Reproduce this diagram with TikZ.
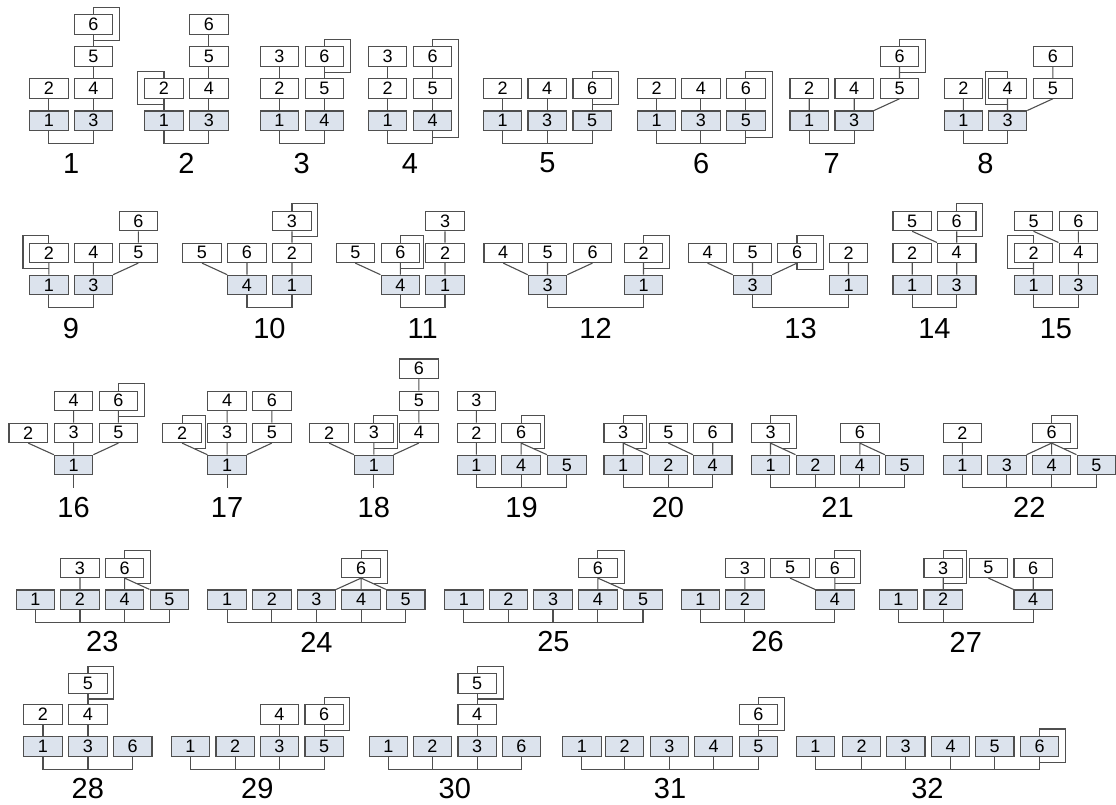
\documentclass[tikz,border=0pt]{standalone}
\usepackage{fontspec}
\setmainfont{Liberation Sans}
\usetikzlibrary{calc}
\definecolor{edge}{HTML}{4F4F4F}
\definecolor{rootfill}{HTML}{DCE3ED}
\newcommand\boxfont{\fontsize{18}{18}\selectfont}
\newcommand\tagfont{\fontsize{29}{29}\selectfont}
%% self loop on the right / left side of a cell, ending at #3
\newcommand\loopR[3]{\draw[link] (#1.north) -- ++(0,-7) -| ($(#1.north east)+(#2,0)$) |- (#3);}
\newcommand\loopL[3]{\draw[link] (#1.north) -- ++(0,-7) -| ($(#1.north west)+(-#2,0)$) |- (#3);}
%% bar joining the roots
\newcommand\rootbar[2]{\draw[link] (#1.south) -- ++(0,12.5) -| (#2.south);}
\newcommand\rootstub[1]{\draw[link] (#1.south) -- ++(0,12.5);}
\tikzset{
  cell/.style={draw=edge, line width=1.1pt, minimum width=38.5pt, minimum height=19.5pt,
    inner sep=0pt, font=\boxfont},
  rootcell/.style={cell, fill=rootfill},
  link/.style={draw=edge, line width=1.1pt},
  tag/.style={font=\tagfont, inner sep=0pt}
}
\begin{document}
\begin{tikzpicture}[x=1pt, y=-1pt]
  \useasboundingbox (0,0) rectangle (1116,805);
  %% ---------------- row 1 ----------------
  %% 1
  \node[rootcell] (d1-1) at (48.8,120.8) {1};
  \node[rootcell] (d1-3) at (93.5,120.8) {3};
  \node[cell] (d1-2) at (48.8,88.5) {2};
  \node[cell] (d1-4) at (93.5,88.5) {4};
  \node[cell] (d1-5) at (93.5,56.5) {5};
  \node[cell] (d1-6) at (93.5,24.5) {6};
  \draw[link] (d1-2) -- (d1-1) (d1-4) -- (d1-3) (d1-5) -- (d1-4) (d1-6) -- (d1-5);
  \rootbar{d1-1}{d1-3}
  \loopR{d1-6}{6}{$(d1-6.south)!.5!(d1-5.north)$}
  \node[tag] (t1) at ($(d1-1.south)!.5!(d1-3.south)+(0,32)$) {1};
  %% 2
  \node[rootcell] (d2-1) at (164,120.8) {1};
  \node[rootcell] (d2-3) at (208.8,120.8) {3};
  \node[cell] (d2-2) at (164,88.5) {2};
  \node[cell] (d2-4) at (208.8,88.5) {4};
  \node[cell] (d2-5) at (208.8,56.5) {5};
  \node[cell] (d2-6) at (208.8,24.5) {6};
  \draw[link] (d2-2) -- (d2-1) (d2-4) -- (d2-3) (d2-5) -- (d2-4) (d2-6) -- (d2-5);
  \rootbar{d2-1}{d2-3}
  \loopL{d2-2}{7}{$(d2-2.south)!.5!(d2-1.north)$}
  \node[tag] (t2) at ($(d2-1.south)!.5!(d2-3.south)+(0,32)$) {2};
  %% 3
  \node[rootcell] (d3-1) at (279.3,120.8) {1};
  \node[rootcell] (d3-4) at (324.3,120.8) {4};
  \node[cell] (d3-2) at (279.3,88.5) {2};
  \node[cell] (d3-5) at (324.3,88.5) {5};
  \node[cell] (d3-3) at (279.3,56.5) {3};
  \node[cell] (d3-6) at (324.3,56.5) {6};
  \draw[link] (d3-3) -- (d3-2) (d3-2) -- (d3-1) (d3-6) -- (d3-5) (d3-5) -- (d3-4);
  \rootbar{d3-1}{d3-4}
  \loopR{d3-6}{6}{$(d3-6.south)!.5!(d3-5.north)$}
  \node[tag] (t3) at ($(d3-1.south)!.5!(d3-4.south)+(0,32)$) {3};
  %% 4
  \node[rootcell] (d4-1) at (387.5,120.8) {1};
  \node[rootcell] (d4-4) at (432.5,120.8) {4};
  \node[cell] (d4-2) at (387.5,88.5) {2};
  \node[cell] (d4-5) at (432.5,88.5) {5};
  \node[cell] (d4-3) at (387.5,56.5) {3};
  \node[cell] (d4-6) at (432.5,56.5) {6};
  \draw[link] (d4-3) -- (d4-2) (d4-2) -- (d4-1) (d4-6) -- (d4-5) (d4-5) -- (d4-4);
  \rootbar{d4-1}{d4-4}
  \loopR{d4-6}{6.5}{$(d4-4.south)+(0,6.25)$}
  \node[tag] (t4) at ($(d4-1.south)!.5!(d4-4.south)+(0,32)$) {4};
  %% 5
  \node[rootcell] (d5-1) at (502.5,120.8) {1};
  \node[rootcell] (d5-3) at (547.2,120.8) {3};
  \node[rootcell] (d5-5) at (592.2,120.8) {5};
  \node[cell] (d5-2) at (502.5,88.5) {2};
  \node[cell] (d5-4) at (547.2,88.5) {4};
  \node[cell] (d5-6) at (592.2,88.5) {6};
  \draw[link] (d5-2) -- (d5-1) (d5-4) -- (d5-3) (d5-6) -- (d5-5);
  \rootbar{d5-1}{d5-5}
  \rootstub{d5-3}
  \loopR{d5-6}{6.5}{$(d5-6.south)!.5!(d5-5.north)$}
  \node[tag] (t5) at ($(d5-1.south)!.5!(d5-5.south)+(0,32)$) {5};
  %% 6
  \node[rootcell] (d6-1) at (656.5,120.8) {1};
  \node[rootcell] (d6-3) at (700.8,120.8) {3};
  \node[rootcell] (d6-5) at (745.8,120.8) {5};
  \node[cell] (d6-2) at (656.5,88.5) {2};
  \node[cell] (d6-4) at (700.8,88.5) {4};
  \node[cell] (d6-6) at (745.8,88.5) {6};
  \draw[link] (d6-2) -- (d6-1) (d6-4) -- (d6-3) (d6-6) -- (d6-5);
  \rootbar{d6-1}{d6-5}
  \rootstub{d6-3}
  \loopR{d6-6}{6.5}{$(d6-5.south)+(0,6.25)$}
  \node[tag] (t6) at ($(d6-1.south)!.5!(d6-5.south)+(0,32)$) {6};
  %% 7
  \node[rootcell] (d7-1) at (809.2,120.8) {1};
  \node[rootcell] (d7-3) at (854.2,120.8) {3};
  \node[cell] (d7-2) at (809.2,88.5) {2};
  \node[cell] (d7-4) at (854.2,88.5) {4};
  \node[cell] (d7-5) at (899.5,88.5) {5};
  \node[cell] (d7-6) at (899.5,56.5) {6};
  \draw[link] (d7-2) -- (d7-1) (d7-4) -- (d7-3) (d7-5.south) -- (d7-3.north east) (d7-6) -- (d7-5);
  \rootbar{d7-1}{d7-3}
  \loopR{d7-6}{6}{$(d7-6.south)!.5!(d7-5.north)$}
  \node[tag] (t7) at ($(d7-1.south)!.5!(d7-3.south)+(0,32)$) {7};
  %% 8
  \node[rootcell] (d8-1) at (963.3,120.8) {1};
  \node[rootcell] (d8-3) at (1007.5,120.8) {3};
  \node[cell] (d8-2) at (963.3,88.5) {2};
  \node[cell] (d8-4) at (1007.5,88.5) {4};
  \node[cell] (d8-5) at (1052.8,88.5) {5};
  \node[cell] (d8-6) at (1052.8,56.5) {6};
  \draw[link] (d8-2) -- (d8-1) (d8-4) -- (d8-3) (d8-5.south) -- (d8-3.north east) (d8-6) -- (d8-5);
  \rootbar{d8-1}{d8-3}
  \loopL{d8-4}{2.6}{$(d8-4.south)!.5!(d8-3.north)$}
  \node[tag] (t8) at ($(d8-1.south)!.5!(d8-3.south)+(0,32)$) {8};
  %% ---------------- row 2 ----------------
  %% 9
  \node[rootcell] (d9-1) at (48.8,285) {1};
  \node[rootcell] (d9-3) at (93.3,285) {3};
  \node[cell] (d9-2) at (48.8,252.8) {2};
  \node[cell] (d9-4) at (93.3,252.8) {4};
  \node[cell] (d9-5) at (138.3,252.8) {5};
  \node[cell] (d9-6) at (138.3,221) {6};
  \draw[link] (d9-2) -- (d9-1) (d9-4) -- (d9-3) (d9-5.south) -- (d9-3.north east) (d9-6) -- (d9-5);
  \rootbar{d9-1}{d9-3}
  \loopL{d9-2}{6}{$(d9-2.south)!.5!(d9-1.north)$}
  \node[tag] (t9) at ($(d9-1.south)!.5!(d9-3.south)+(0,33)$) {9};
  %% 10
  \node[rootcell] (d10-4) at (247,285) {4};
  \node[rootcell] (d10-1) at (292,285) {1};
  \node[cell] (d10-5) at (202,252.8) {5};
  \node[cell] (d10-6) at (247,252.8) {6};
  \node[cell] (d10-2) at (292,252.8) {2};
  \node[cell] (d10-3) at (292,221) {3};
  \draw[link] (d10-5.south) -- (d10-4.north west) (d10-6) -- (d10-4) (d10-3) -- (d10-2) (d10-2) -- (d10-1);
  \rootbar{d10-4}{d10-1}
  \loopR{d10-3}{5.5}{$(d10-3.south)!.5!(d10-2.north)$}
  \node[tag] (t10) at ($(d10-4.south)!.5!(d10-1.south)+(0,33)$) {10};
  %% 11
  \node[rootcell] (d11-4) at (400.3,285) {4};
  \node[rootcell] (d11-1) at (445,285) {1};
  \node[cell] (d11-5) at (355.3,252.8) {5};
  \node[cell] (d11-6) at (400.3,252.8) {6};
  \node[cell] (d11-2) at (445,252.8) {2};
  \node[cell] (d11-3) at (445,221) {3};
  \draw[link] (d11-5.south) -- (d11-4.north west) (d11-6) -- (d11-4) (d11-3) -- (d11-2) (d11-2) -- (d11-1);
  \rootbar{d11-4}{d11-1}
  \loopR{d11-6}{3.3}{$(d11-6.south)!.5!(d11-4.north)$}
  \node[tag] (t11) at ($(d11-4.south)!.5!(d11-1.south)+(0,33)$) {11};
  %% 12
  \node[rootcell] (d12-3) at (547.5,285) {3};
  \node[rootcell] (d12-1) at (643.5,285) {1};
  \node[cell] (d12-4) at (503.2,252.8) {4};
  \node[cell] (d12-5) at (547.5,252.8) {5};
  \node[cell] (d12-6) at (592.5,252.8) {6};
  \node[cell] (d12-2) at (643.5,252.8) {2};
  \draw[link] (d12-4.south) -- (d12-3.north west) (d12-5) -- (d12-3) (d12-6.south) -- (d12-3.north east) (d12-2) -- (d12-1);
  \rootbar{d12-3}{d12-1}
  \loopR{d12-2}{6.5}{$(d12-2.south)!.5!(d12-1.north)$}
  \node[tag] (t12) at ($(d12-3.south)!.5!(d12-1.south)+(0,33)$) {12};
  %% 13
  \node[rootcell] (d13-3) at (752.5,285) {3};
  \node[rootcell] (d13-1) at (848.5,285) {1};
  \node[cell] (d13-4) at (707.5,252.8) {4};
  \node[cell] (d13-5) at (752.5,252.8) {5};
  \node[cell] (d13-6) at (797,252.8) {6};
  \node[cell] (d13-2) at (848.5,252.8) {2};
  \draw[link] (d13-4.south) -- (d13-3.north west) (d13-5) -- (d13-3) (d13-6.south) -- (d13-3.north east) (d13-2) -- (d13-1);
  \rootbar{d13-3}{d13-1}
  \loopR{d13-6}{6.3}{$(d13-6.south)+(0,6.5)$}
  \draw[link] ($(d13-6.south)+(0,6.5)$) -- (d13-6.south);
  \node[tag] (t13) at ($(d13-3.south)!.5!(d13-1.south)+(0,33)$) {13};
  %% 14
  \node[rootcell] (d14-1) at (912.2,285) {1};
  \node[rootcell] (d14-3) at (956.7,285) {3};
  \node[cell] (d14-2) at (912.2,252.8) {2};
  \node[cell] (d14-4) at (956.7,252.8) {4};
  \node[cell] (d14-5) at (912.2,221) {5};
  \node[cell] (d14-6) at (956.7,221) {6};
  \draw[link] (d14-2) -- (d14-1) (d14-4) -- (d14-3) (d14-5.south) -- (d14-4.north west) (d14-6) -- (d14-4);
  \rootbar{d14-1}{d14-3}
  \loopR{d14-6}{6.3}{$(d14-6.south)!.5!(d14-4.north)$}
  \node[tag] (t14) at ($(d14-1.south)!.5!(d14-3.south)+(0,33)$) {14};
  %% 15
  \node[rootcell] (d15-1) at (1033.5,285) {1};
  \node[rootcell] (d15-3) at (1078.3,285) {3};
  \node[cell] (d15-2) at (1033.5,252.8) {2};
  \node[cell] (d15-4) at (1078.3,252.8) {4};
  \node[cell] (d15-5) at (1033.5,221) {5};
  \node[cell] (d15-6) at (1078.3,221) {6};
  \draw[link] (d15-2) -- (d15-1) (d15-4) -- (d15-3) (d15-5.south) -- (d15-4.north west) (d15-6) -- (d15-4);
  \rootbar{d15-1}{d15-3}
  \loopL{d15-2}{6}{$(d15-2.south)!.5!(d15-1.north)$}
  \node[tag] (t15) at ($(d15-1.south)!.5!(d15-3.south)+(0,33)$) {15};
  %% ---------------- row 3 ----------------
  %% 16
  \node[rootcell] (d16-1) at (73.6,465) {1};
  \node[cell] (d16-2) at (28.2,432.8) {2};
  \node[cell] (d16-3) at (73.6,432.8) {3};
  \node[cell] (d16-5) at (118.4,432.8) {5};
  \node[cell] (d16-4) at (73.6,400.8) {4};
  \node[cell] (d16-6) at (118.4,400.8) {6};
  \draw[link] (d16-2.south) -- (d16-1.north west) (d16-3) -- (d16-1) (d16-5.south) -- (d16-1.north east) (d16-4) -- (d16-3) (d16-6) -- (d16-5);
  \rootstub{d16-1}
  \loopR{d16-6}{6.5}{$(d16-6.south)!.5!(d16-5.north)$}
  \node[tag] (t16) at ($(d16-1.south)+(0,32)$) {16};
  %% 17
  \node[rootcell] (d17-1) at (227.1,465) {1};
  \node[cell] (d17-2) at (182.1,432.8) {2};
  \node[cell] (d17-3) at (227.1,432.8) {3};
  \node[cell] (d17-5) at (271.8,432.8) {5};
  \node[cell] (d17-4) at (227.1,400.8) {4};
  \node[cell] (d17-6) at (271.8,400.8) {6};
  \draw[link] (d17-2.south) -- (d17-1.north west) (d17-3) -- (d17-1) (d17-5.south) -- (d17-1.north east) (d17-4) -- (d17-3) (d17-6) -- (d17-5);
  \rootstub{d17-1}
  \loopR{d17-2}{3.6}{$(d17-2.south)!.5!(d17-1.north west)$}
  \node[tag] (t17) at ($(d17-1.south)+(0,32)$) {17};
  %% 18
  \node[rootcell] (d18-1) at (373.8,465) {1};
  \node[cell] (d18-2) at (329.1,432.8) {2};
  \node[cell] (d18-3) at (373.8,432.8) {3};
  \node[cell] (d18-4) at (418.8,432.8) {4};
  \node[cell] (d18-5) at (418.8,400.8) {5};
  \node[cell] (d18-6) at (418.8,368.7) {6};
  \draw[link] (d18-2.south) -- (d18-1.north west) (d18-3) -- (d18-1) (d18-4.south) -- (d18-1.north east) (d18-5) -- (d18-4) (d18-6) -- (d18-5);
  \rootstub{d18-1}
  \loopR{d18-3}{3.5}{$(d18-3.south)!.5!(d18-1.north)$}
  \node[tag] (t18) at ($(d18-1.south)+(0,32)$) {18};
  %% 19
  \node[rootcell] (d19-1) at (476.3,465) {1};
  \node[rootcell] (d19-4) at (521.1,465) {4};
  \node[rootcell] (d19-5) at (566.8,465) {5};
  \node[cell] (d19-2) at (476.3,432.8) {2};
  \node[cell] (d19-6) at (521.1,432.8) {6};
  \node[cell] (d19-3) at (476.3,400.8) {3};
  \draw[link] (d19-3) -- (d19-2) (d19-2) -- (d19-1) (d19-6) -- (d19-4) (d19-6.south) -- (d19-5.north west);
  \rootbar{d19-1}{d19-5}
  \rootstub{d19-4}
  \loopR{d19-6}{3.6}{$(d19-6.south)!.5!(d19-5.north west)$}
  \node[tag] (t19) at ($(d19-1.south)!.5!(d19-5.south)+(0,32)$) {19};
  %% 20
  \node[rootcell] (d20-1) at (623.2,465) {1};
  \node[rootcell] (d20-2) at (668.4,465) {2};
  \node[rootcell] (d20-4) at (712.7,465) {4};
  \node[cell] (d20-3) at (623.2,432.8) {3};
  \node[cell] (d20-5) at (668.4,432.8) {5};
  \node[cell] (d20-6) at (712.7,432.8) {6};
  \draw[link] (d20-3) -- (d20-1) (d20-3.south) -- (d20-2.north west) (d20-5.south) -- (d20-4.north west) (d20-6) -- (d20-4);
  \rootbar{d20-1}{d20-4}
  \rootstub{d20-2}
  \loopR{d20-3}{3.6}{$(d20-3.south)!.5!(d20-2.north west)$}
  \node[tag] (t20) at ($(d20-1.south)!.5!(d20-4.south)+(0,32)$) {20};
  %% 21
  \node[rootcell] (d21-1) at (770.5,465) {1};
  \node[rootcell] (d21-2) at (815.3,465) {2};
  \node[rootcell] (d21-4) at (859.8,465) {4};
  \node[rootcell] (d21-5) at (904.6,465) {5};
  \node[cell] (d21-3) at (770.5,432.8) {3};
  \node[cell] (d21-6) at (859.8,432.8) {6};
  \draw[link] (d21-3) -- (d21-1) (d21-3.south) -- (d21-2.north west) (d21-6) -- (d21-4) (d21-6.south) -- (d21-5.north west);
  \rootbar{d21-1}{d21-5}
  \rootstub{d21-2}
  \rootstub{d21-4}
  \loopR{d21-3}{6}{$(d21-3.south)!.5!(d21-2.north west)$}
  \node[tag] (t21) at ($(d21-1.south)!.5!(d21-5.south)+(0,32)$) {21};
  %% 22
  \node[rootcell] (d22-1) at (962.3,465) {1};
  \node[rootcell] (d22-3) at (1006.8,465) {3};
  \node[rootcell] (d22-4) at (1051.6,465) {4};
  \node[rootcell] (d22-5) at (1096.3,465) {5};
  \node[cell] (d22-2) at (962.3,432.8) {2};
  \node[cell] (d22-6) at (1051.6,432.8) {6};
  \draw[link] (d22-2) -- (d22-1) (d22-6.south) -- (d22-3.north east) (d22-6) -- (d22-4) (d22-6.south) -- (d22-5.north west);
  \rootbar{d22-1}{d22-5}
  \rootstub{d22-3}
  \rootstub{d22-4}
  \loopR{d22-6}{6}{$(d22-6.south)!.5!(d22-5.north west)$}
  \node[tag] (t22) at ($(d22-1.south)!.5!(d22-5.south)+(0,32)$) {22};
  %% ---------------- row 4 ----------------
  %% 23
  \node[rootcell] (d23-1) at (35.4,599.7) {1};
  \node[rootcell] (d23-2) at (80,599.7) {2};
  \node[rootcell] (d23-4) at (124.6,599.7) {4};
  \node[rootcell] (d23-5) at (169.3,599.7) {5};
  \node[cell] (d23-3) at (80,567.8) {3};
  \node[cell] (d23-6) at (124.6,567.8) {6};
  \draw[link] (d23-3) -- (d23-2) (d23-6) -- (d23-4) (d23-6.south) -- (d23-5.north west);
  \rootbar{d23-1}{d23-5}
  \rootstub{d23-2}
  \rootstub{d23-4}
  \loopR{d23-6}{6}{$(d23-6.south)!.5!(d23-5.north west)$}
  \node[tag] (t23) at ($(d23-1.south)!.5!(d23-5.south)+(0,32)$) {23};
  %% 24
  \node[rootcell] (d24-1) at (227.1,599.7) {1};
  \node[rootcell] (d24-2) at (271.8,599.7) {2};
  \node[rootcell] (d24-3) at (316.4,599.7) {3};
  \node[rootcell] (d24-4) at (361.1,599.7) {4};
  \node[rootcell] (d24-5) at (405.7,599.7) {5};
  \node[cell] (d24-6) at (361.1,567.8) {6};
  \draw[link] (d24-6.south) -- (d24-3.north east) (d24-6) -- (d24-4) (d24-6.south) -- (d24-5.north west);
  \rootbar{d24-1}{d24-5}
  \rootstub{d24-2}
  \rootstub{d24-3}
  \rootstub{d24-4}
  \loopR{d24-6}{6.4}{$(d24-6.south)!.5!(d24-5.north west)$}
  \node[tag] (t24) at ($(d24-1.south)!.5!(d24-5.south)+(0,32)$) {24};
  %% 25
  \node[rootcell] (d25-1) at (463.8,599.7) {1};
  \node[rootcell] (d25-2) at (508.4,599.7) {2};
  \node[rootcell] (d25-3) at (553,599.7) {3};
  \node[rootcell] (d25-4) at (597.9,599.7) {4};
  \node[rootcell] (d25-5) at (643,599.7) {5};
  \node[cell] (d25-6) at (597.9,567.8) {6};
  \draw[link] (d25-6) -- (d25-4) (d25-6.south) -- (d25-5.north west);
  \rootbar{d25-1}{d25-5}
  \rootstub{d25-2}
  \rootstub{d25-3}
  \rootstub{d25-4}
  \loopR{d25-6}{6.5}{$(d25-6.south)!.5!(d25-5.north west)$}
  \node[tag] (t25) at ($(d25-1.south)!.5!(d25-5.south)+(0,32)$) {25};
  %% 26
  \node[rootcell] (d26-1) at (700.3,599.7) {1};
  \node[rootcell] (d26-2) at (744.8,599.7) {2};
  \node[rootcell] (d26-4) at (834.8,599.7) {4};
  \node[cell] (d26-3) at (744.8,567.8) {3};
  \node[cell] (d26-5) at (790,567.8) {5};
  \node[cell] (d26-6) at (834.8,567.8) {6};
  \draw[link] (d26-3) -- (d26-2) (d26-5.south) -- (d26-4.north west) (d26-6) -- (d26-4);
  \rootbar{d26-1}{d26-4}
  \rootstub{d26-2}
  \loopR{d26-6}{6.3}{$(d26-6.south)!.5!(d26-4.north)$}
  \node[tag] (t26) at ($(d26-1.south)!.5!(d26-4.south)+(0,32)$) {26};
  %% 27
  \node[rootcell] (d27-1) at (898.4,599.7) {1};
  \node[rootcell] (d27-2) at (943.2,599.7) {2};
  \node[rootcell] (d27-4) at (1033.2,599.7) {4};
  \node[cell] (d27-3) at (943.2,567.8) {3};
  \node[cell] (d27-5) at (988.4,567.8) {5};
  \node[cell] (d27-6) at (1033.2,567.8) {6};
  \draw[link] (d27-3) -- (d27-2) (d27-5.south) -- (d27-4.north west) (d27-6) -- (d27-4);
  \rootbar{d27-1}{d27-4}
  \rootstub{d27-2}
  \loopR{d27-3}{3.7}{$(d27-3.south)!.5!(d27-2.north)$}
  \node[tag] (t27) at ($(d27-1.south)!.5!(d27-4.south)+(0,32)$) {27};
  %% ---------------- row 5 ----------------
  %% 28
  \node[rootcell] (d28-1) at (43,746.3) {1};
  \node[rootcell] (d28-3) at (88,746.3) {3};
  \node[rootcell] (d28-6) at (132.7,746.3) {6};
  \node[cell] (d28-2) at (43,714.5) {2};
  \node[cell] (d28-4) at (88,714.5) {4};
  \node[cell] (d28-5) at (88,683.5) {5};
  \draw[link] (d28-2) -- (d28-1) (d28-4) -- (d28-3) (d28-5) -- (d28-4);
  \rootbar{d28-1}{d28-6}
  \rootstub{d28-3}
  \loopR{d28-5}{5.7}{$(d28-5.south)!.5!(d28-4.north)$}
  \node[tag] (t28) at ($(d28-1.south)!.5!(d28-6.south)+(0,32)$) {28};
  %% 29
  \node[rootcell] (d29-1) at (190.4,746.3) {1};
  \node[rootcell] (d29-2) at (235.2,746.3) {2};
  \node[rootcell] (d29-3) at (279.4,746.3) {3};
  \node[rootcell] (d29-5) at (324.2,746.3) {5};
  \node[cell] (d29-4) at (279.4,714.5) {4};
  \node[cell] (d29-6) at (324.2,714.5) {6};
  \draw[link] (d29-4) -- (d29-3) (d29-6) -- (d29-5);
  \rootbar{d29-1}{d29-5}
  \rootstub{d29-2}
  \rootstub{d29-3}
  \loopR{d29-6}{5.5}{$(d29-6.south)!.5!(d29-5.north)$}
  \node[tag] (t29) at ($(d29-1.south)!.5!(d29-5.south)+(0,32)$) {29};
  %% 30
  \node[rootcell] (d30-1) at (388.3,746.3) {1};
  \node[rootcell] (d30-2) at (432.4,746.3) {2};
  \node[rootcell] (d30-3) at (477.2,746.3) {3};
  \node[rootcell] (d30-6) at (521.4,746.3) {6};
  \node[cell] (d30-4) at (477.2,714.5) {4};
  \node[cell] (d30-5) at (477.2,683.5) {5};
  \draw[link] (d30-4) -- (d30-3) (d30-5) -- (d30-4);
  \rootbar{d30-1}{d30-6}
  \rootstub{d30-2}
  \rootstub{d30-3}
  \loopR{d30-5}{6.4}{$(d30-5.south)!.5!(d30-4.north)$}
  \node[tag] (t30) at ($(d30-1.south)!.5!(d30-6.south)+(0,32)$) {30};
  %% 31
  \node[rootcell] (d31-1) at (581.8,746.3) {1};
  \node[rootcell] (d31-2) at (624.6,746.3) {2};
  \node[rootcell] (d31-3) at (669.4,746.3) {3};
  \node[rootcell] (d31-4) at (713.5,746.3) {4};
  \node[rootcell] (d31-5) at (758.4,746.3) {5};
  \node[cell] (d31-6) at (758.4,714.5) {6};
  \draw[link] (d31-6) -- (d31-5);
  \rootbar{d31-1}{d31-5}
  \rootstub{d31-2}
  \rootstub{d31-3}
  \rootstub{d31-4}
  \loopR{d31-6}{6.4}{$(d31-6.south)!.5!(d31-5.north)$}
  \node[tag] (t31) at ($(d31-1.south)!.5!(d31-5.south)+(0,32)$) {31};
  %% 32
  \node[rootcell] (d32-1) at (815.3,746.3) {1};
  \node[rootcell] (d32-2) at (861.5,746.3) {2};
  \node[rootcell] (d32-3) at (905.7,746.3) {3};
  \node[rootcell] (d32-4) at (950.5,746.3) {4};
  \node[rootcell] (d32-5) at (994.7,746.3) {5};
  \node[rootcell] (d32-6) at (1039.5,746.3) {6};
  \rootbar{d32-1}{d32-6}
  \rootstub{d32-2}
  \rootstub{d32-3}
  \rootstub{d32-4}
  \rootstub{d32-5}
  \loopR{d32-6}{6.4}{$(d32-6.south)+(0,6.25)$}
  \node[tag] (t32) at ($(d32-1.south)!.5!(d32-6.south)+(0,32)$) {32};
\end{tikzpicture}
\end{document}
